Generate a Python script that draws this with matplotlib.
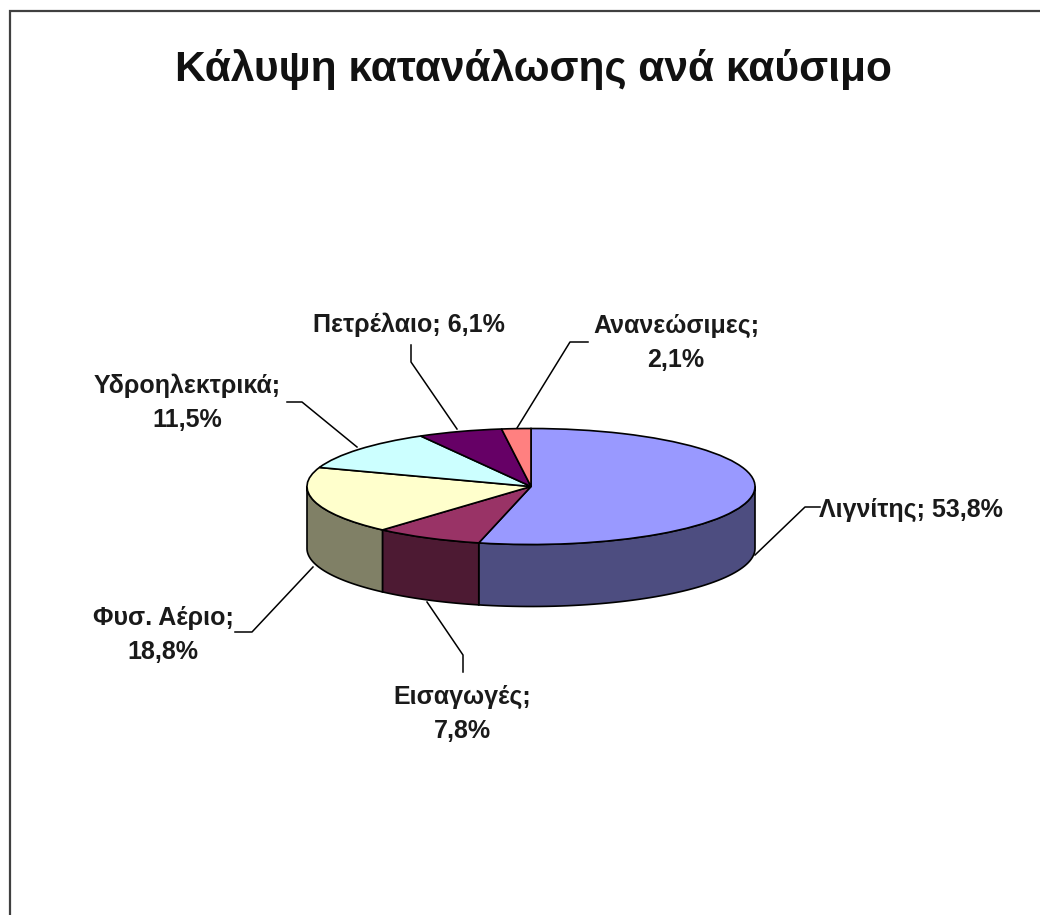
import matplotlib
matplotlib.use("Agg")
import matplotlib.pyplot as plt
import numpy as np

names = ["Λιγνίτης", "Εισαγωγές", "Φυσ. Αέριο", "Υδροηλεκτρικά", "Πετρέλαιο", "Ανανεώσιμες"]
shares = [53.8, 7.8, 18.8, 11.5, 6.1, 2.1]
top_colors = ["#9999FF", "#993366", "#FFFFCC", "#CCFFFF", "#660066", "#FF8080"]
side_colors = ["#4D4D80", "#4D1A33", "#808066", "#668080", "#330033", "#804040"]
title = "Κάλυψη κατανάλωσης ανά καύσιμο"

plt.rcParams["font.family"] = ["Liberation Sans", "DejaVu Sans"]

W, H = 1040, 915
cx, cy = 531, 486.5
rx, ry = 224, 58
depth = 62 / ry

fig = plt.figure(figsize=(W / 100, H / 100), dpi=100, facecolor="white")

# pie axes: one data unit is rx pixels across and ry pixels down, which flattens the disc
ax = fig.add_axes([0, 0, 1, 1])
wedges, _ = ax.pie(shares, colors=top_colors, startangle=90, counterclock=False,
                   wedgeprops={"edgecolor": "black", "linewidth": 1.2, "zorder": 3})
ax.set_aspect("auto")
ax.set_xlim(-cx / rx, (W - cx) / rx)
ax.set_ylim(-(H - cy) / ry, cy / ry)
ax.axis("off")

# side wall, only the part of each slice facing the viewer
edges = np.cumsum([0] + shares) / sum(shares) * 360
for i in range(len(shares)):
    start, stop = max(edges[i], 90), min(edges[i + 1], 270)
    if stop <= start:
        continue
    t = np.radians(np.linspace(start, stop, 60))
    xs = np.concatenate([np.sin(t), np.sin(t[::-1])])
    ys = np.concatenate([np.cos(t), np.cos(t[::-1]) - depth])
    ax.fill(xs, ys, facecolor=side_colors[i], edgecolor="black", linewidth=1.2, zorder=2)

# page axes in pixels for the frame, title, labels and leader lines
page = fig.add_axes([0, 0, 1, 1], facecolor="none")
page.set_xlim(0, W)
page.set_ylim(H, 0)
page.axis("off")

page.plot([10, 10, 1040], [915, 11, 11], color="#404040", lw=1.6, solid_joinstyle="miter")
page.text(533, 69, title, ha="center", va="center", fontsize=30.6, fontweight="bold", color="#111111")


def label_text(i, wrap):
    value = f"{shares[i]:.1f}%".replace(".", ",")
    return f"{names[i]};" + ("\n" if wrap else " ") + value


label_spots = [(911, 510, False), (462, 714, True), (163, 635, True),
               (187, 403, True), (409, 325, False), (676, 343, True)]
for i, (x, y, wrap) in enumerate(label_spots):
    page.text(x, y, label_text(i, wrap), ha="center", va="center", fontsize=18,
              fontweight="bold", color="#1a1a1a", linespacing=1.55)

leaders = [
    ([755, 805, 820], [555, 507, 507]),
    ([427, 463, 463], [602, 655, 672]),
    ([313, 252, 235], [567, 632, 632]),
    ([357, 302, 287], [447, 402, 402]),
    ([457, 411, 411], [429, 362, 345]),
    ([517, 570, 588], [428, 342, 342]),
]
for xs, ys in leaders:
    page.plot(xs, ys, color="black", lw=1.1)

fig.savefig("out.png", dpi=100)
